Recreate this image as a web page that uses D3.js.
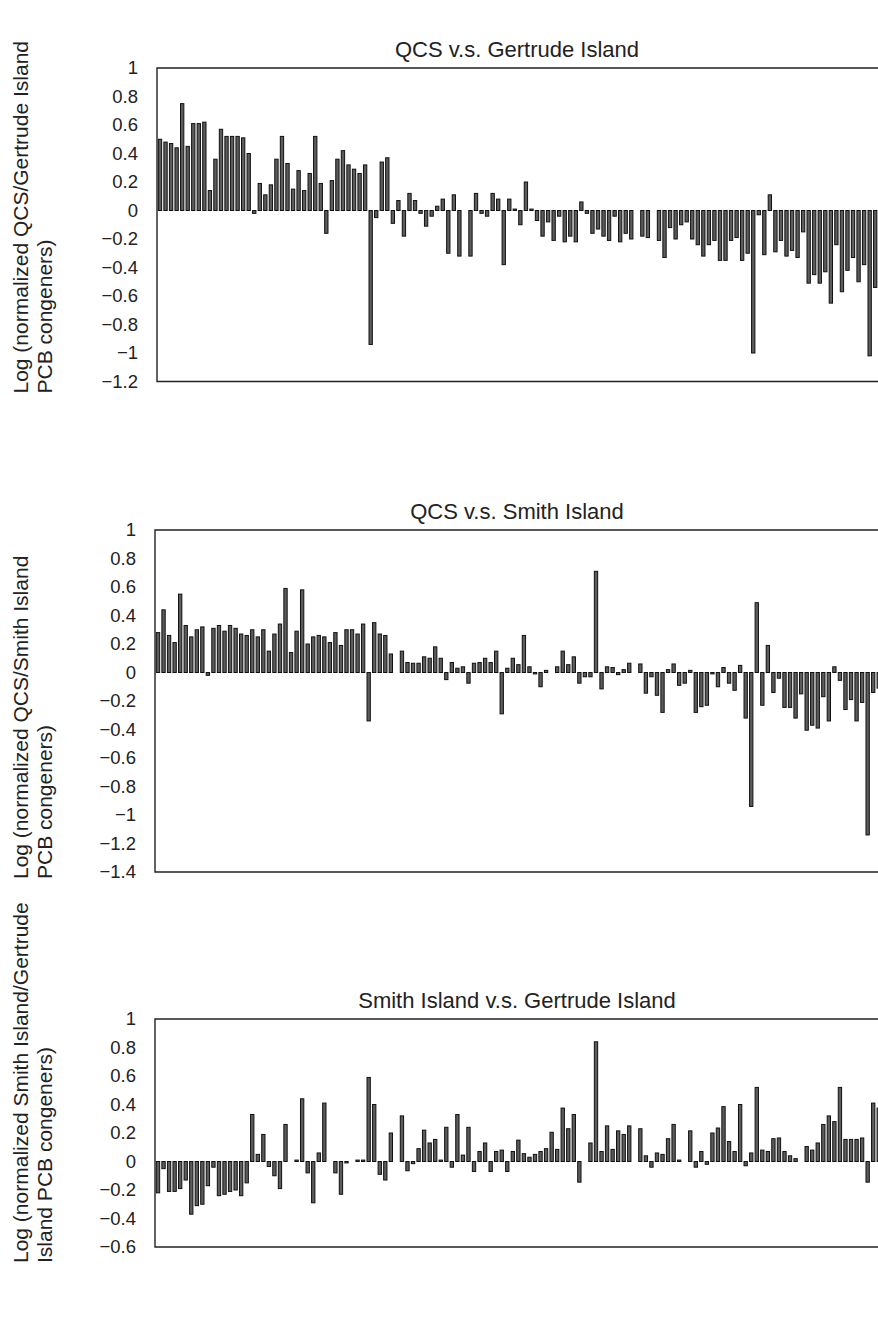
<!DOCTYPE html>
<html>
<head>
<meta charset="utf-8">
<script src="https://cdn.jsdelivr.net/npm/d3@7"></script>
<style>
  html, body { margin: 0; padding: 0; background: #fff; }
  svg { display: block; }
  text { font-family: Arial, "Liberation Sans", sans-serif; fill: #222; }
</style>
</head>
<body>
<div id="chart"></div>
<script>
// PCB congener index (x categories), shared by all three comparisons
const congeners = d3.range(1, 132);

// Log ratios of normalized PCB congener levels, one value per congener
const qcsVsGertrude = [
  0.50, 0.48, 0.47, 0.44, 0.75, 0.45, 0.61, 0.61, 0.62, 0.14,
  0.36, 0.57, 0.52, 0.52, 0.52, 0.51, 0.40, -0.02, 0.19, 0.11,
  0.18, 0.36, 0.52, 0.33, 0.15, 0.28, 0.14, 0.26, 0.52, 0.19,
  -0.16, 0.21, 0.36, 0.42, 0.32, 0.29, 0.26, 0.32, -0.94, -0.05,
  0.34, 0.37, -0.09, 0.07, -0.18, 0.12, 0.07, -0.02, -0.11, -0.04,
  0.03, 0.08, -0.30, 0.11, -0.32, 0, -0.32, 0.12, -0.02, -0.04,
  0.12, 0.08, -0.38, 0.08, 0.01, -0.10, 0.20, 0.01, -0.07, -0.18,
  -0.08, -0.21, -0.04, -0.22, -0.18, -0.22, 0.06, -0.02, -0.16, -0.13,
  -0.18, -0.21, -0.04, -0.22, -0.16, -0.20, 0, -0.18, -0.19, 0,
  -0.21, -0.33, -0.12, -0.20, -0.10, -0.08, -0.20, -0.24, -0.32, -0.24,
  -0.21, -0.35, -0.35, -0.21, -0.19, -0.35, -0.30, -1.00, -0.03, -0.31,
  0.11, -0.29, -0.21, -0.32, -0.28, -0.33, -0.15, -0.51, -0.45, -0.51,
  -0.43, -0.65, -0.24, -0.57, -0.42, -0.33, -0.50, -0.38, -1.02, -0.54
];

const qcsVsSmith = [
  0.28, 0.44, 0.26, 0.21, 0.55, 0.33, 0.25, 0.30, 0.32, -0.02,
  0.31, 0.33, 0.29, 0.33, 0.31, 0.27, 0.26, 0.30, 0.25, 0.30,
  0.15, 0.27, 0.34, 0.59, 0.14, 0.29, 0.58, 0.20, 0.25, 0.26,
  0.25, 0.21, 0.28, 0.19, 0.30, 0.30, 0.27, 0.34, -0.34, 0.35,
  0.27, 0.26, 0.13, 0, 0.15, 0.07, 0.065, 0.065, 0.11, 0.10,
  0.18, 0.10, -0.05, 0.07, 0.03, 0.04, -0.075, 0.065, 0.07, 0.10,
  0.07, 0.15, -0.29, 0.03, 0.10, 0.055, 0.26, 0.04, -0.01, -0.10,
  0.015, 0, 0.04, 0.15, 0.055, 0.11, -0.075, -0.03, -0.03, 0.71,
  -0.115, 0.04, 0.035, -0.015, 0.02, 0.065, 0, 0.06, -0.145, -0.03,
  -0.16, -0.28, 0.02, 0.06, -0.09, -0.075, 0.015, -0.28, -0.24, -0.23,
  -0.01, -0.10, 0.035, -0.075, -0.125, 0.05, -0.32, -0.94, 0.49, -0.23,
  0.19, -0.14, -0.04, -0.245, -0.245, -0.32, -0.15, -0.405, -0.37, -0.39,
  -0.17, -0.34, 0.04, -0.055, -0.26, -0.19, -0.34, -0.21, -1.14, -0.14,
  -0.11
];

const smithVsGertrude = [
  -0.22, -0.05, -0.21, -0.21, -0.19, -0.13, -0.37, -0.31, -0.30, -0.17,
  -0.04, -0.24, -0.23, -0.21, -0.20, -0.24, -0.15, 0.33, 0.05, 0.19,
  -0.035, -0.10, -0.19, 0.26, 0, 0.01, 0.44, -0.08, -0.29, 0.06,
  0.41, 0, -0.08, -0.23, -0.01, 0, 0.01, 0.01, 0.59, 0.40,
  -0.09, -0.13, 0.20, 0, 0.32, -0.065, -0.015, 0.09, 0.22, 0.13,
  0.155, 0.01, 0.24, -0.04, 0.33, 0.045, 0.24, -0.07, 0.07, 0.13,
  -0.07, 0.07, 0.08, -0.07, 0.07, 0.15, 0.055, 0.03, 0.05, 0.07,
  0.09, 0.205, 0.085, 0.375, 0.23, 0.33, -0.145, 0, 0.13, 0.84,
  0.07, 0.25, 0.085, 0.215, 0.19, 0.25, 0, 0.23, 0.04, -0.04,
  0.06, 0.05, 0.16, 0.26, 0.01, 0, 0.215, -0.04, 0.07, -0.02,
  0.20, 0.235, 0.385, 0.14, 0.07, 0.40, -0.03, 0.06, 0.52, 0.08,
  0.07, 0.16, 0.165, 0.07, 0.04, 0.02, 0, 0.105, 0.08, 0.13,
  0.26, 0.32, 0.28, 0.52, 0.155, 0.155, 0.155, 0.165, -0.145, 0.41,
  0.375
];

// y tick labels for each panel
const ticksGertrude = [1, 0.8, 0.6, 0.4, 0.2, 0, -0.2, -0.4, -0.6, -0.8, -1, -1.2];
const ticksSmith = [1, 0.8, 0.6, 0.4, 0.2, 0, -0.2, -0.4, -0.6, -0.8, -1, -1.2, -1.4];
const ticksSmithGertrude = [1, 0.8, 0.6, 0.4, 0.2, 0, -0.2, -0.4, -0.6];

const titles = [
  "QCS v.s. Gertrude Island",
  "QCS v.s. Smith Island",
  "Smith Island v.s. Gertrude Island"
];
const yLabels = [
  ["Log (normalized QCS/Gertrude Island", "PCB congeners)"],
  ["Log (normalized QCS/Smith Island", "PCB congeners)"],
  ["Log (normalized Smith Island/Gertrude", "Island PCB congeners)"]
];

const W = 878, H = 1328;
const svg = d3.select("#chart").append("svg")
  .attr("width", W).attr("height", H);

const unitPx = 142.5;      // vertical pixels per log unit
const step = 5.54;         // horizontal pixels per congener

const panels = [
  { values: qcsVsGertrude, ticks: ticksGertrude, left: 157, top: 68, labelDrop: 12, title: titles[0], ylab: yLabels[0] },
  { values: qcsVsSmith, ticks: ticksSmith, left: 155, top: 530, labelDrop: 7, title: titles[1], ylab: yLabels[1] },
  { values: smithVsGertrude, ticks: ticksSmithGertrude, left: 155, top: 1019, labelDrop: 16, title: titles[2], ylab: yLabels[2] }
];

panels.forEach(p => {
  const yMax = d3.max(p.ticks), yMin = d3.min(p.ticks);
  const bottom = p.top + (yMax - yMin) * unitPx;
  const right = p.left + congeners.length * step + 10;

  const x = d3.scaleBand()
    .domain(congeners)
    .range([p.left + 0.5, p.left + 0.5 + congeners.length * step])
    .paddingInner(0.4)
    .paddingOuter(0.15);

  const y = d3.scaleLinear().domain([yMin, yMax]).range([bottom, p.top]);

  const g = svg.append("g");

  // bars
  const rows = congeners.map((c, i) => ({ c, v: p.values[i] }))
    .filter(d => d.v !== undefined && d.v !== 0);
  g.selectAll("rect.bar").data(rows).join("rect")
    .attr("class", "bar")
    .attr("x", d => x(d.c))
    .attr("width", x.bandwidth())
    .attr("y", d => Math.min(y(d.v), y(0)))
    .attr("height", d => Math.max(1, Math.abs(y(d.v) - y(0))))
    .attr("fill", "#5c5c5c")
    .attr("stroke", "#111")
    .attr("stroke-width", 1);

  // frame (open to the right, extends past the page edge)
  g.append("path")
    .attr("d", `M${right},${p.top}H${p.left}V${bottom}H${right}`)
    .attr("fill", "none")
    .attr("stroke", "#222")
    .attr("stroke-width", 1.4);

  // y axis labels (no tick marks)
  const axis = d3.axisLeft(y).tickValues(p.ticks).tickSize(0).tickPadding(19)
    .tickFormat(d3.format("~g"));
  const ax = g.append("g").attr("transform", `translate(${p.left},0)`).call(axis);
  ax.select(".domain").remove();
  ax.selectAll("text")
    .style("font-family", 'Arial, "Liberation Sans", sans-serif')
    .style("font-size", "18.5px")
    .attr("fill", "#222");

  // title
  g.append("text")
    .attr("x", 517).attr("y", p.top - 11)
    .attr("text-anchor", "middle")
    .style("font-size", "22px")
    .text(p.title);

  // rotated y label, two lines, anchored at the bottom
  const lab = g.append("text")
    .attr("transform", `translate(28,${bottom + p.labelDrop}) rotate(-90)`)
    .attr("text-anchor", "start")
    .style("font-size", "21px");
  p.ylab.forEach((line, i) => {
    lab.append("tspan").attr("x", 0).attr("dy", i === 0 ? 0 : 24).text(line);
  });
});
</script>
</body>
</html>
